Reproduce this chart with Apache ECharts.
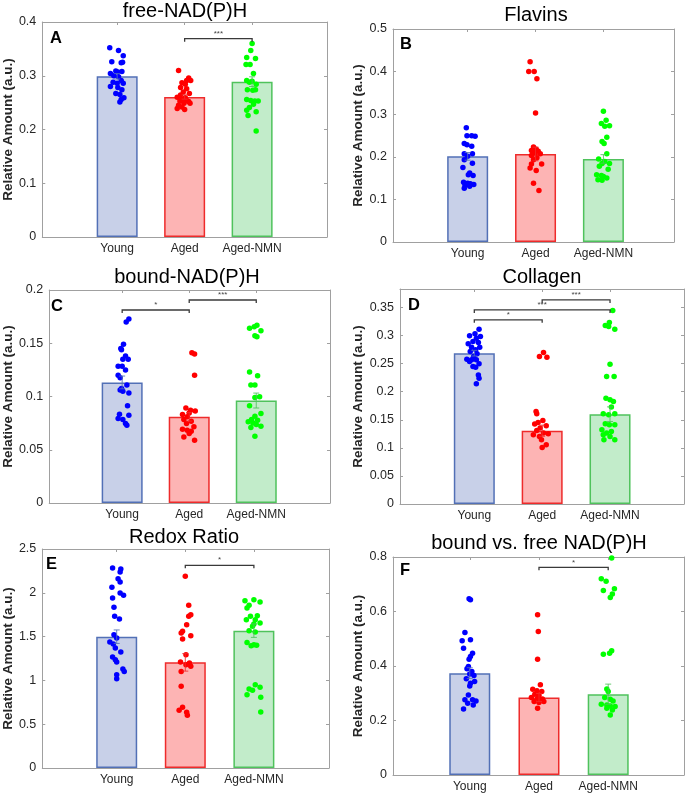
<!DOCTYPE html>
<html><head><meta charset="utf-8">
<script src="https://cdn.jsdelivr.net/npm/echarts@6/dist/echarts.min.js"></script>
<style>html,body{margin:0;padding:0;background:#fff}#c{width:685px;height:796px}</style>
</head><body><div id="c"></div>
<script>
// ---------------- data ----------------
const categories = ['Young', 'Aged', 'Aged-NMN'];
const yAxisName = 'Relative Amount (a.u.)';

// Panel A: free-NAD(P)H   points are [jitter, value]
const aMeans = [0.299, 0.2605, 0.289];
const aSem = [0.005, 0.004, 0.009];
const aYoung = [[-0.11,0.352],[0.02,0.347],[0.09,0.337],[-0.08,0.326],[0.06,0.324],[0.08,0.325],[-0.02,0.309],[-0.10,0.304],[0.01,0.307],[0.07,0.308],[-0.05,0.300],[0.02,0.298],[0.06,0.291],[-0.06,0.288],[0.00,0.286],[-0.10,0.280],[0.09,0.286],[0.01,0.278],[0.07,0.274],[-0.02,0.267],[0.04,0.265],[0.10,0.259],[0.06,0.256],[0.04,0.251]];
const aAged = [[-0.09,0.310],[0.06,0.296],[0.03,0.291],[0.09,0.291],[-0.04,0.287],[0.01,0.284],[-0.06,0.278],[0.03,0.276],[-0.02,0.270],[0.07,0.267],[-0.06,0.264],[-0.11,0.260],[0.01,0.259],[-0.04,0.256],[0.03,0.254],[-0.07,0.253],[0.06,0.252],[-0.01,0.249],[0.08,0.249],[-0.09,0.245],[-0.04,0.242],[-0.11,0.239],[0.00,0.237]];
const aNMN = [[0,0.360],[-0.02,0.347],[-0.08,0.334],[0.05,0.332],[-0.09,0.321],[-0.03,0.321],[0.02,0.304],[-0.08,0.291],[-0.04,0.288],[0,0.290],[0.06,0.284],[-0.07,0.274],[0.05,0.274],[0.01,0.273],[-0.08,0.256],[-0.02,0.254],[0.04,0.253],[0.09,0.253],[0.02,0.247],[-0.04,0.241],[-0.08,0.236],[0.06,0.233],[-0.06,0.226],[0.06,0.197]];
const aSig = [[2, 3, 0.369, '***']];

// Panel B: Flavins
const bMeans = [0.201, 0.2066, 0.195];
const bSem = [0.009, 0.016, 0.01];
const bYoung = [[-0.02,0.268],[-0.01,0.2496],[0.06,0.2496],[0.11,0.248],[-0.05,0.231],[-0.01,0.228],[0.06,0.225],[-0.05,0.207],[0.07,0.207],[0,0.201],[-0.05,0.193],[0.07,0.185],[-0.07,0.175],[0.03,0.162],[0.08,0.156],[0.01,0.158],[-0.06,0.140],[0,0.138],[0.04,0.137],[-0.04,0.134],[0.09,0.135],[0.03,0.131],[-0.05,0.126]];
const bAged = [[-0.08,0.423],[-0.10,0.400],[-0.02,0.400],[0.02,0.383],[0,0.303],[-0.03,0.223],[0.01,0.218],[-0.06,0.215],[0.04,0.213],[-0.01,0.209],[0.07,0.207],[-0.06,0.203],[0.02,0.198],[-0.03,0.193],[0.09,0.183],[-0.06,0.183],[-0.08,0.174],[0.01,0.168],[-0.03,0.138],[0.05,0.121]];
const bNMN = [[0,0.307],[0.04,0.286],[-0.03,0.278],[0.09,0.273],[0.02,0.272],[0.05,0.246],[-0.02,0.236],[0.01,0.231],[0.05,0.207],[-0.07,0.195],[0.02,0.189],[0.09,0.184],[-0.02,0.184],[-0.06,0.178],[0.07,0.171],[-0.10,0.158],[-0.03,0.156],[0,0.154],[0.05,0.150],[-0.08,0.146],[-0.02,0.145]];
const bSig = [];

// Panel C: bound-NAD(P)H
const cMeans = [0.1132, 0.0809, 0.0962];
const cSem = [0.006, 0.004, 0.007];
const cYoung = [[0.10,0.1727],[0.06,0.170],[0.02,0.149],[-0.02,0.145],[-0.01,0.144],[0.05,0.138],[0.09,0.135],[0.01,0.135],[-0.06,0.1285],[0,0.1285],[0.05,0.125],[-0.06,0.120],[-0.03,0.1176],[0.07,0.1107],[-0.01,0.1075],[0.01,0.105],[0.10,0.1034],[-0.03,0.106],[0.08,0.0912],[-0.04,0.0834],[0.10,0.0824],[-0.06,0.0793],[0.01,0.0784],[0.05,0.0746],[0.07,0.073]];
const cAged = [[0.04,0.141],[0.08,0.140],[0.08,0.120],[-0.05,0.0893],[0.02,0.0871],[0.09,0.0865],[0,0.0846],[-0.10,0.083],[-0.03,0.0809],[-0.08,0.0784],[0.03,0.0768],[-0.04,0.0746],[0.07,0.0715],[-0.10,0.0693],[-0.03,0.0683],[0.03,0.0674],[0,0.0652],[-0.08,0.062],[0.08,0.059]];
const cNMN = [[-0.10,0.164],[-0.03,0.1655],[0.01,0.1668],[0.07,0.1618],[0.01,0.156],[-0.02,0.157],[-0.10,0.123],[0.02,0.1194],[-0.02,0.1107],[-0.08,0.1107],[0.05,0.0997],[-0.02,0.099],[-0.10,0.0912],[0.07,0.084],[-0.02,0.0815],[-0.07,0.0784],[0.02,0.0777],[-0.12,0.0762],[-0.05,0.0752],[0,0.0737],[0.07,0.0721],[-0.08,0.0708],[-0.02,0.0627]];
const cSig = [[1, 2, 0.1812, '*'], [2, 3, 0.1906, '***']];

// Panel D: Collagen
const dMeans = [0.2687, 0.1305, 0.160];
const dSem = [0.005, 0.01, 0.013];
const dYoung = [[0.07,0.3114],[0.01,0.3031],[-0.07,0.2996],[0.09,0.2984],[0.03,0.2954],[-0.02,0.2895],[-0.09,0.2853],[0.06,0.2877],[-0.04,0.2794],[0.08,0.2794],[0.02,0.2747],[-0.06,0.2717],[0.04,0.2675],[-0.01,0.2628],[-0.11,0.258],[-0.04,0.2569],[0.03,0.2569],[-0.07,0.2539],[0.07,0.2497],[-0.02,0.245],[0.02,0.2438],[0.06,0.230],[0.07,0.2242],[0.03,0.2142]];
const dAged = [[0.02,0.270],[-0.04,0.2628],[0.07,0.2616],[-0.09,0.165],[-0.08,0.1608],[0.01,0.1489],[-0.06,0.1453],[-0.11,0.1424],[0.06,0.1394],[-0.03,0.1353],[-0.08,0.131],[0.02,0.1264],[-0.13,0.1234],[-0.04,0.1204],[0.09,0.1252],[-0.01,0.1145],[0.06,0.1056],[0,0.1008]];
const dNMN = [[0.04,0.3447],[-0.01,0.3233],[-0.07,0.318],[-0.02,0.3162],[0.07,0.3114],[0,0.249],[-0.05,0.227],[0.06,0.227],[-0.06,0.1886],[0,0.1857],[0.05,0.1827],[0.02,0.1726],[-0.10,0.1608],[-0.02,0.159],[0.07,0.1608],[-0.07,0.143],[-0.01,0.1412],[0.07,0.1412],[-0.12,0.1323],[0.02,0.1293],[-0.05,0.1264],[-0.10,0.1234],[0,0.1204],[-0.09,0.1145],[0.07,0.1145]];
const dSig = [[1, 2, 0.328, '*'], [1, 3, 0.3458, '***'], [2, 3, 0.3636, '***']];

// Panel E: Redox Ratio
const eMeans = [1.499, 1.206, 1.568];
const eSem = [0.077, 0.1, 0.077];
const eYoung = [[-0.06,2.283],[0.06,2.272],[0.05,2.237],[0.02,2.161],[0.05,2.123],[-0.07,2.062],[0.05,1.998],[0.10,1.971],[-0.06,1.941],[-0.04,1.834],[-0.03,1.731],[0.04,1.701],[-0.04,1.522],[0,1.484],[-0.10,1.438],[-0.05,1.416],[-0.02,1.370],[0.06,1.324],[-0.06,1.267],[-0.02,1.237],[0,1.210],[0.09,1.130],[0.11,1.103],[0,1.065],[0,1.020]];
const eAged = [[0,2.188],[0.05,1.857],[0.08,1.750],[0.05,1.731],[0.02,1.636],[-0.04,1.560],[-0.06,1.541],[0.08,1.511],[-0.04,1.473],[0.01,1.294],[-0.07,1.210],[0.06,1.199],[0.01,1.180],[0.08,1.161],[-0.06,1.103],[-0.06,0.932],[-0.04,0.693],[-0.09,0.658],[0.02,0.635],[0.03,0.601]];
const eNMN = [[-0.13,1.910],[0,1.922],[0.09,1.895],[-0.07,1.857],[-0.10,1.826],[0.05,1.739],[-0.05,1.731],[-0.11,1.693],[0.02,1.693],[0.09,1.655],[0,1.644],[-0.02,1.617],[-0.07,1.568],[0.02,1.552],[-0.10,1.434],[0,1.408],[0.04,1.400],[-0.04,1.396],[0.02,0.951],[0.09,0.921],[-0.07,0.902],[-0.02,0.887],[-0.10,0.837],[0.10,0.807],[0.10,0.639]];
const eSig = [[2, 3, 2.314, '*']];

// Panel F: bound vs. free NAD(P)H
const fMeans = [0.3737, 0.2842, 0.2965];
const fSem = [0.02, 0.015, 0.037];
const fYoung = [[-0.01,0.647],[0.01,0.643],[-0.07,0.523],[-0.11,0.4925],[0.01,0.496],[-0.09,0.4655],[0.04,0.447],[0.01,0.435],[-0.01,0.425],[-0.02,0.398],[-0.04,0.390],[0.03,0.380],[0,0.371],[0.06,0.365],[-0.05,0.353],[0.07,0.343],[0.01,0.337],[0,0.327],[-0.02,0.294],[-0.07,0.2757],[0.04,0.2757],[0.09,0.272],[-0.03,0.2634],[0.05,0.2573],[-0.09,0.2426]];
const fAged = [[-0.02,0.588],[-0.01,0.527],[-0.02,0.425],[0.02,0.331],[-0.09,0.315],[-0.03,0.309],[0.04,0.306],[-0.06,0.2965],[0,0.2916],[-0.11,0.284],[-0.02,0.2818],[0.05,0.279],[-0.07,0.2695],[0,0.2658],[0.07,0.2695],[-0.02,0.245]];
const fNMN = [[0.05,0.796],[-0.10,0.720],[-0.03,0.7106],[-0.07,0.6775],[0.09,0.6836],[0.06,0.664],[0.03,0.6518],[0.05,0.4557],[0.02,0.447],[-0.07,0.4435],[-0.02,0.316],[0,0.306],[-0.05,0.284],[0.03,0.278],[0.07,0.272],[-0.10,0.2597],[-0.02,0.2573],[0.03,0.2536],[0.10,0.251],[-0.02,0.245],[0.06,0.2389],[0.03,0.2205]];
const fSig = [[2, 3, 0.762, '*']];

// ---------------- layout / style ----------------
const FONT = '"Liberation Sans", Arial, Helvetica, sans-serif';
const fills = ['#c8d0e8', '#fdb4b4', '#c2ecca'];
const edges = ['#5270b6', '#ee2b2b', '#4fc25c'];
const dots = ['#0000ff', '#ff0000', '#00ff00'];
const axisColor = '#a0a0a0';
const textColor = '#262626';

const panels = [
  {title:'free-NAD(P)H', letter:'A', means:aMeans, sem:aSem, groups:[aYoung,aAged,aNMN], sig:aSig,
   left:42, top:22, width:285, height:215, xMin:-0.11, xMax:4.11, yMax:0.4, yInt:0.1, showMax:true,
   tx:185, ty:11, lx:50, ly:38},
  {title:'Flavins', letter:'B', means:bMeans, sem:bSem, groups:[bYoung,bAged,bNMN], sig:bSig,
   left:393, top:29, width:281, height:213, xMin:-0.10, xMax:4.04, yMax:0.5, yInt:0.1, showMax:true,
   tx:536, ty:15, lx:400, ly:44},
  {title:'bound-NAD(P)H', letter:'C', means:cMeans, sem:cSem, groups:[cYoung,cAged,cNMN], sig:cSig,
   left:45, top:290, width:285, height:213, xMin:-0.088, xMax:4.10, yMax:0.2, yInt:0.05, showMax:true,
   tx:187, ty:277, lx:51, ly:306},
  {title:'Collagen', letter:'D', means:dMeans, sem:dSem, groups:[dYoung,dAged,dNMN], sig:dSig,
   left:400, top:289, width:284, height:215, xMin:-0.095, xMax:4.09, yMax:0.383, yInt:0.05, showMax:false,
   tx:542, ty:277, lx:408, ly:305},
  {title:'Redox Ratio', letter:'E', means:eMeans, sem:eSem, groups:[eYoung,eAged,eNMN], sig:eSig,
   left:40, top:549, width:289, height:219, xMin:-0.085, xMax:4.095, yMax:2.5, yInt:0.5, showMax:true,
   tx:184, ty:537, lx:46, ly:564},
  {title:'bound vs. free NAD(P)H', letter:'F', means:fMeans, sem:fSem, groups:[fYoung,fAged,fNMN], sig:fSig,
   left:393, top:557, width:291, height:218, xMin:-0.109, xMax:4.095, yMax:0.8, yInt:0.2, showMax:true,
   tx:539, ty:543, lx:400, ly:570}
];

const grid = [], xAxis = [], yAxis = [], series = [], graphic = [];
const catPos = [1, 2, 3];

panels.forEach((p, i) => {
  grid.push({left:p.left, top:p.top, width:p.width, height:p.height, containLabel:false});
  const line = {show:true, onZero:false, lineStyle:{color:axisColor, width:1}};
  xAxis.push({gridIndex:i, type:'value', position:'bottom', min:p.xMin, max:p.xMax,
    axisLine:line,
    axisTick:{show:true, inside:true, length:3, customValues:catPos, lineStyle:{color:axisColor}},
    axisLabel:{customValues:catPos, formatter:v => categories[Math.round(v)-1] || '', color:textColor, fontSize:12, fontFamily:FONT, margin:6},
    splitLine:{show:false}});
  xAxis.push({gridIndex:i, type:'value', position:'top', min:p.xMin, max:p.xMax,
    axisLine:line,
    axisTick:{show:true, inside:true, length:3, customValues:catPos, lineStyle:{color:axisColor}},
    axisLabel:{show:false}, splitLine:{show:false}});
  yAxis.push({gridIndex:i, type:'value', position:'left', min:0, max:p.yMax, interval:p.yInt,
    axisLine:line,
    axisTick:{show:true, inside:true, length:3, lineStyle:{color:axisColor}},
    axisLabel:{color:textColor, fontSize:12.5, fontFamily:FONT, margin:6, showMaxLabel:p.showMax, showMinLabel:true},
    splitLine:{show:false},
    name:yAxisName, nameLocation:'middle', nameGap:25,
    nameTextStyle:{fontWeight:'bold', fontSize:13.5, color:textColor, fontFamily:FONT}});
  yAxis.push({gridIndex:i, type:'value', position:'right', min:0, max:p.yMax, interval:p.yInt,
    axisLine:line,
    axisTick:{show:true, inside:true, length:3, lineStyle:{color:axisColor}},
    axisLabel:{show:false}, splitLine:{show:false}});

  const xi = 2*i, yi = 2*i;
  series.push({type:'bar', xAxisIndex:xi, yAxisIndex:yi, barWidth:41, z:2,
    data:p.means.map((m, k) => ({value:[k+1, m], itemStyle:{color:fills[k], borderColor:edges[k], borderWidth:1.5}}))});
  p.groups.forEach((g, k) => {
    series.push({type:'scatter', xAxisIndex:xi, yAxisIndex:yi, symbol:'circle', symbolSize:5.5, z:3,
      itemStyle:{color:dots[k], opacity:1},
      data:g.map(d => [k + 1 + d[0], d[1]])});
  });
  series.push({type:'custom', xAxisIndex:xi, yAxisIndex:yi, z:4,
    data:p.means.map((m, k) => [k+1, m, p.sem[k]]),
    renderItem:(params, api) => {
      const x = api.value(0), m = api.value(1), s = api.value(2);
      const t = api.coord([x, m + s]), b = api.coord([x, m - s]);
      const col = edges[params.dataIndex];
      const st = {stroke:col, lineWidth:1, opacity:0.85};
      return {type:'group', children:[
        {type:'line', shape:{x1:t[0], y1:t[1], x2:b[0], y2:b[1]}, style:st},
        {type:'line', shape:{x1:t[0]-3, y1:t[1], x2:t[0]+3, y2:t[1]}, style:st},
        {type:'line', shape:{x1:b[0]-3, y1:b[1], x2:b[0]+3, y2:b[1]}, style:st}
      ]};
    }});
  if (p.sig.length) {
    series.push({type:'custom', xAxisIndex:xi, yAxisIndex:yi, z:5, clip:false,
      encode:{x:[0,1], y:2},
      data:p.sig.map(s => [s[0], s[1], s[2]]),
      renderItem:(params, api) => {
        const a = api.coord([api.value(0), api.value(2)]);
        const b = api.coord([api.value(1), api.value(2)]);
        const lbl = p.sig[params.dataIndex][3];
        return {type:'group', children:[
          {type:'polyline', shape:{points:[[a[0], a[1]+3],[a[0], a[1]],[b[0], b[1]],[b[0], b[1]+3]]},
           style:{stroke:'#3a3a3a', lineWidth:1.3, fill:null}},
          {type:'text', x:(a[0]+b[0])/2, y:a[1]-1,
           style:{text:lbl, fill:'#444', fontSize:8, fontFamily:FONT, align:'center', verticalAlign:'bottom'}}
        ]};
      }});
  }
  graphic.push({type:'text', x:p.tx, y:p.ty,
    style:{text:p.title, fill:'#000', fontSize:20, fontFamily:FONT, align:'center', verticalAlign:'middle'}});
  graphic.push({type:'text', x:p.lx, y:p.ly,
    style:{text:p.letter, fill:'#000', fontSize:16.5, fontWeight:'bold', fontFamily:FONT, align:'left', verticalAlign:'middle'}});
});

const chart = echarts.init(document.getElementById('c'), null, {renderer:'canvas'});
chart.setOption({animation:false, backgroundColor:'#fff', grid, xAxis, yAxis, series, graphic});
</script>
</body></html>
